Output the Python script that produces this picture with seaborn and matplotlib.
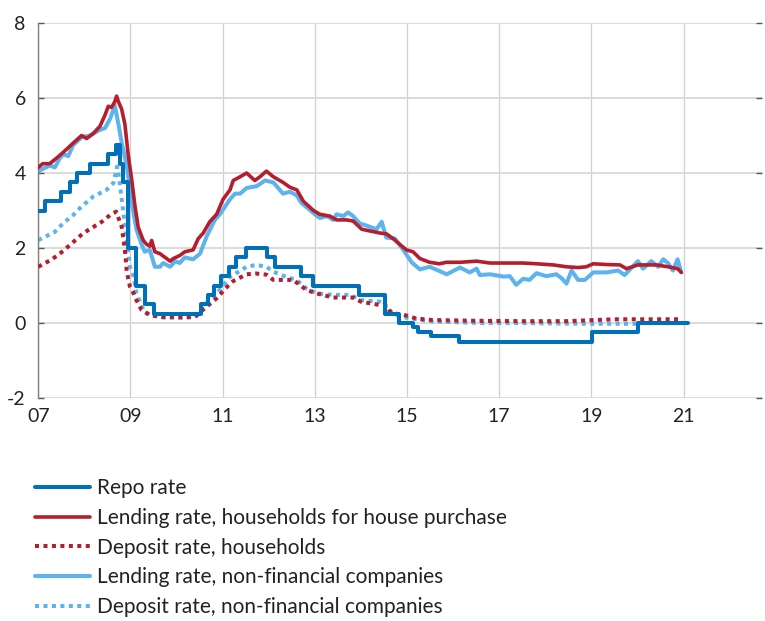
import numpy as np
import pandas as pd
import seaborn as sns
import matplotlib.pyplot as plt

# repo rate: date of change (decimal year) and new level
repo_dates = [2007.00, 2007.14, 2007.49, 2007.68, 2007.83, 2008.12, 2008.52, 2008.69,
              2008.77, 2008.83, 2008.94, 2009.11, 2009.31, 2009.52, 2010.52, 2010.68,
              2010.82, 2010.97, 2011.13, 2011.30, 2011.51, 2011.97, 2012.14, 2012.70,
              2012.97, 2013.96, 2014.52, 2014.83, 2015.13, 2015.23, 2015.52, 2016.13,
              2019.02, 2020.02, 2021.09]
repo_rate = [3.00, 3.25, 3.50, 3.75, 4.00, 4.25, 4.50, 4.75,
             4.25, 3.75, 2.00, 1.00, 0.50, 0.25, 0.50, 0.75,
             1.00, 1.25, 1.50, 1.75, 2.00, 1.75, 1.50, 1.25,
             1.00, 0.75, 0.25, 0.00, -0.10, -0.25, -0.35, -0.50,
             -0.25, 0.00, 0.00]

# lending rate, households for house purchase
hh_lend_x = [2007.00, 2007.10, 2007.25, 2007.40, 2007.54, 2007.76, 2007.94, 2008.05,
             2008.19, 2008.34, 2008.45, 2008.52, 2008.59, 2008.66, 2008.70, 2008.74,
             2008.81, 2008.88, 2008.95, 2009.03, 2009.10, 2009.17, 2009.28, 2009.35,
             2009.42, 2009.46, 2009.53, 2009.64, 2009.75, 2009.86, 2009.93, 2010.07,
             2010.18, 2010.36, 2010.47, 2010.58, 2010.72, 2010.87, 2011.01, 2011.16,
             2011.23, 2011.38, 2011.52, 2011.70, 2011.81, 2011.95, 2012.10, 2012.31,
             2012.46, 2012.61, 2012.75, 2012.97, 2013.11, 2013.33, 2013.47, 2013.69,
             2013.83, 2014.02, 2014.41, 2014.55, 2014.70, 2014.84, 2014.99, 2015.13,
             2015.28, 2015.49, 2015.70, 2015.86, 2016.15, 2016.51, 2016.80, 2017.09,
             2017.52, 2017.81, 2018.17, 2018.46, 2018.71, 2018.89, 2019.04, 2019.33,
             2019.62, 2019.76, 2020.01, 2020.12, 2020.41, 2020.66, 2020.87, 2020.95]
hh_lend = [4.15, 4.25, 4.25, 4.40, 4.55, 4.80, 5.00, 4.92,
           5.05, 5.25, 5.55, 5.78, 5.75, 5.90, 6.05, 5.90,
           5.70, 5.30, 4.50, 3.80, 3.10, 2.55, 2.20, 2.10,
           2.05, 2.20, 1.90, 1.85, 1.75, 1.65, 1.72, 1.80,
           1.90, 1.95, 2.25, 2.40, 2.70, 2.90, 3.30, 3.55,
           3.80, 3.90, 4.00, 3.80, 3.90, 4.05, 3.90, 3.75,
           3.62, 3.55, 3.25, 3.00, 2.90, 2.85, 2.75, 2.75,
           2.72, 2.50, 2.40, 2.38, 2.25, 2.10, 1.95, 1.90,
           1.72, 1.62, 1.58, 1.62, 1.62, 1.65, 1.60, 1.60,
           1.60, 1.58, 1.55, 1.50, 1.48, 1.50, 1.58, 1.56,
           1.55, 1.45, 1.55, 1.55, 1.55, 1.50, 1.45, 1.35]

# deposit rate, households
hh_dep_x = [2007.00, 2007.30, 2007.54, 2007.98, 2008.38, 2008.56, 2008.69, 2008.81,
            2008.88, 2008.92, 2008.99, 2009.07, 2009.13, 2009.24, 2009.42, 2009.70,
            2010.10, 2010.40, 2010.57, 2010.87, 2011.16, 2011.23, 2011.52, 2011.73,
            2011.95, 2012.10, 2012.31, 2012.53, 2012.68, 2012.82, 2013.04, 2013.40,
            2013.83, 2014.00, 2014.41, 2014.52, 2014.60, 2014.70, 2014.93, 2015.20,
            2015.55, 2016.50, 2017.50, 2018.50, 2019.06, 2019.50, 2020.50, 2020.92]
hh_dep = [1.50, 1.70, 1.92, 2.40, 2.70, 2.88, 2.97, 2.57,
          1.95, 1.37, 0.97, 0.79, 0.61, 0.35, 0.21, 0.16,
          0.15, 0.16, 0.35, 0.66, 1.05, 1.12, 1.30, 1.32,
          1.29, 1.15, 1.15, 1.15, 1.01, 0.88, 0.79, 0.68,
          0.68, 0.57, 0.48, 0.50, 0.35, 0.26, 0.22, 0.12,
          0.08, 0.06, 0.05, 0.05, 0.08, 0.10, 0.10, 0.10]

# lending rate, non-financial companies
nfc_lend_x = [2007.00, 2007.25, 2007.36, 2007.47, 2007.54, 2007.65, 2007.76, 2007.94,
              2008.12, 2008.34, 2008.45, 2008.56, 2008.66, 2008.74, 2008.81, 2008.92,
              2009.03, 2009.13, 2009.24, 2009.31, 2009.42, 2009.53, 2009.64, 2009.71,
              2009.86, 2009.97, 2010.07, 2010.18, 2010.36, 2010.51, 2010.65, 2010.83,
              2010.94, 2011.16, 2011.27, 2011.38, 2011.52, 2011.74, 2011.92, 2012.10,
              2012.31, 2012.46, 2012.61, 2012.71, 2012.86, 2013.00, 2013.11, 2013.26,
              2013.40, 2013.47, 2013.62, 2013.72, 2013.83, 2013.98, 2014.12, 2014.34,
              2014.45, 2014.55, 2014.74, 2014.92, 2015.10, 2015.28, 2015.49, 2015.68,
              2015.86, 2016.15, 2016.36, 2016.51, 2016.58, 2016.80, 2017.09, 2017.23,
              2017.37, 2017.52, 2017.66, 2017.81, 2018.02, 2018.24, 2018.35, 2018.46,
              2018.57, 2018.71, 2018.86, 2019.04, 2019.33, 2019.58, 2019.72, 2020.01,
              2020.12, 2020.30, 2020.45, 2020.56, 2020.66, 2020.77, 2020.87, 2020.95]
nfc_lend = [4.05, 4.20, 4.15, 4.40, 4.50, 4.45, 4.75, 4.95,
            5.00, 5.15, 5.20, 5.45, 5.80, 5.30, 4.80, 4.20,
            3.20, 2.50, 2.10, 1.90, 1.95, 1.50, 1.50, 1.60,
            1.50, 1.65, 1.60, 1.75, 1.70, 1.85, 2.30, 2.75,
            2.90, 3.30, 3.45, 3.45, 3.60, 3.65, 3.80, 3.75,
            3.45, 3.50, 3.40, 3.20, 3.05, 2.90, 2.80, 2.85,
            2.75, 2.90, 2.85, 2.95, 2.85, 2.65, 2.60, 2.50,
            2.70, 2.28, 2.25, 1.95, 1.62, 1.43, 1.50, 1.40,
            1.30, 1.48, 1.35, 1.45, 1.28, 1.30, 1.24, 1.25,
            1.02, 1.18, 1.15, 1.33, 1.25, 1.30, 1.20, 1.05,
            1.40, 1.15, 1.15, 1.35, 1.35, 1.40, 1.28, 1.65,
            1.45, 1.65, 1.50, 1.70, 1.60, 1.40, 1.70, 1.35]

# deposit rate, non-financial companies
nfc_dep_x = [2007.00, 2007.36, 2007.54, 2007.76, 2007.90, 2008.19, 2008.48, 2008.63,
             2008.71, 2008.76, 2008.84, 2008.92, 2008.99, 2009.07, 2009.13, 2009.28,
             2009.42, 2009.70, 2010.10, 2010.40, 2010.57, 2010.87, 2011.16, 2011.52,
             2011.73, 2011.95, 2012.10, 2012.38, 2012.60, 2012.82, 2013.04, 2013.40,
             2013.77, 2014.00, 2014.41, 2014.50, 2014.60, 2014.85, 2015.20, 2015.55,
             2016.62, 2017.50, 2018.80, 2020.00]
nfc_dep = [2.21, 2.43, 2.66, 2.88, 3.06, 3.37, 3.55, 3.73,
           4.17, 3.81, 3.01, 2.21, 1.50, 1.23, 0.79, 0.35,
           0.21, 0.15, 0.15, 0.16, 0.43, 0.79, 1.23, 1.50,
           1.55, 1.50, 1.37, 1.23, 1.15, 0.92, 0.79, 0.75,
           0.75, 0.61, 0.57, 0.52, 0.30, 0.17, 0.10, 0.04,
           0.00, 0.00, -0.02, -0.02]

labels = ["Repo rate", "Lending rate, households for house purchase",
          "Deposit rate, households", "Lending rate, non-financial companies",
          "Deposit rate, non-financial companies"]
dark_blue = "#0070B8"
red = "#B41E2D"
light_blue = "#5CB3EE"

sns.set_style("white")
plt.rcParams["font.family"] = ["Lato", "DejaVu Sans"]
plt.rcParams["axes.unicode_minus"] = False

fig = plt.figure(figsize=(7.65, 6.21), dpi=100)
ax = fig.add_axes([0.05, 0.359, 0.946, 0.604])

dots = (0, (1.0, 1.1))
sns.lineplot(x=repo_dates, y=repo_rate, ax=ax, color=dark_blue, lw=2.9,
             drawstyle="steps-post", label=labels[0], zorder=5, errorbar=None)
sns.lineplot(x=hh_lend_x, y=hh_lend, ax=ax, color=red, lw=2.6,
             label=labels[1], zorder=4, errorbar=None)
sns.lineplot(x=hh_dep_x, y=hh_dep, ax=ax, color=red, lw=2.9, linestyle=dots,
             label=labels[2], zorder=3, errorbar=None)
sns.lineplot(x=nfc_lend_x, y=nfc_lend, ax=ax, color=light_blue, lw=2.9,
             label=labels[3], zorder=2, errorbar=None)
sns.lineplot(x=nfc_dep_x, y=nfc_dep, ax=ax, color=light_blue, lw=2.9, linestyle=dots,
             label=labels[4], zorder=1, errorbar=None)

ax.set_xlim(2007, 2022.7)
ax.set_ylim(-2, 8)
ax.set_yticks([-2, 0, 2, 4, 6, 8])
ax.set_xticks([2007, 2009, 2011, 2013, 2015, 2017, 2019, 2021])
ax.set_xticklabels(["07", "09", "11", "13", "15", "17", "19", "21"])
ax.grid(axis="y", color="#D9D9D9", lw=1.3)
ax.grid(axis="x", color="#CFCFCF", lw=0.9)
ax.set_axisbelow(True)
for s in ["top", "right", "bottom"]:
    ax.spines[s].set_visible(False)
ax.spines["left"].set_color("#7F7F7F")
ax.spines["left"].set_linewidth(1.0)
ax.tick_params(axis="y", left=True, right=True, direction="in", length=4,
               width=1, color="#595959", labelsize=14, pad=9, labelcolor="#222222")
ax.tick_params(axis="x", bottom=False, labelsize=14, pad=4, labelcolor="#222222")
ax.set_xlabel("")
ax.set_ylabel("")

handles, labs = ax.get_legend_handles_labels()
ax.legend(handles, labs, loc="upper left", bbox_to_anchor=(35 / 765, 1 - 478 / 621),
          bbox_transform=fig.transFigure, frameon=False, fontsize=15,
          handlelength=2.65, handletextpad=0.33, labelspacing=0.47,
          borderpad=0, borderaxespad=0, labelcolor="#222222")

fig.savefig("out.png", dpi=100)
